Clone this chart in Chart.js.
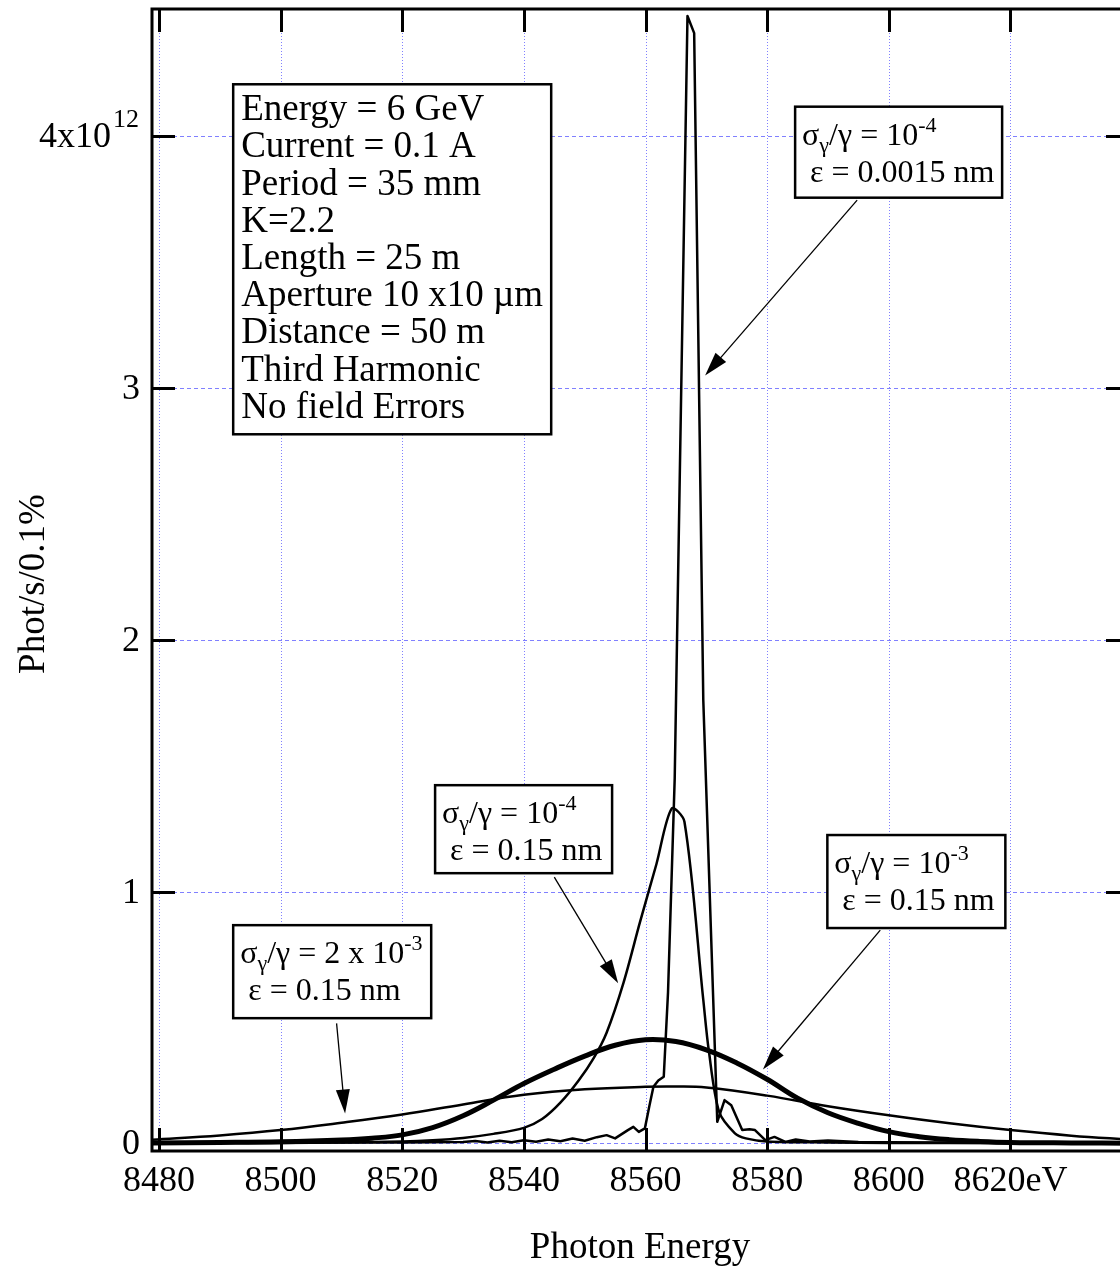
<!DOCTYPE html>
<html>
<head>
<meta charset="utf-8">
<script src="https://cdn.jsdelivr.net/npm/chart.js@4.4.1/dist/chart.umd.min.js"></script>
<style>
  html, body { margin: 0; padding: 0; background: #fff; overflow: hidden; }
  #wrap { width: 1140px; height: 1272px; }
</style>
</head>
<body>
<div id="wrap"><canvas id="spectrumChart" width="1140" height="1272"></canvas></div>
<script>
// Undulator third harmonic spectra, flux in units of 1e12 phot/s/0.1%

const xTicks = [8480, 8500, 8520, 8540, 8560, 8580, 8600, 8620];
const xTickLabels = ["8480", "8500", "8520", "8540", "8560", "8580", "8600", "8620eV"];
const yTicks = [0, 1, 2, 3, 4];
const yTickLabels = ["0", "1", "2", "3", "4x10"];

// sigma/gamma = 1e-3, eps = 0.15 nm (thick curve)
const energyThick = [8478.8, 8490, 8500, 8510, 8515, 8520, 8525, 8530, 8535, 8540, 8545, 8550, 8555, 8560, 8565, 8570, 8575, 8580, 8585, 8590, 8595, 8600, 8605, 8610, 8615, 8620, 8630, 8640];
const fluxThick = [0.002, 0.004, 0.007, 0.014, 0.021, 0.034, 0.063, 0.11, 0.172, 0.238, 0.295, 0.347, 0.39, 0.412, 0.405, 0.372, 0.32, 0.255, 0.18, 0.122, 0.08, 0.047, 0.027, 0.015, 0.008, 0.004, 0.002, 0.001];

// sigma/gamma = 2e-3, eps = 0.15 nm (broad curve)
const energyBroad = [8478.8, 8490, 8500, 8510, 8520, 8530, 8540, 8550, 8560, 8565, 8570, 8580, 8590, 8600, 8610, 8620, 8630, 8640];
const fluxBroad = [0.015, 0.032, 0.053, 0.082, 0.115, 0.155, 0.193, 0.215, 0.225, 0.226, 0.222, 0.19, 0.148, 0.112, 0.08, 0.053, 0.031, 0.015];

// sigma/gamma = 1e-4, eps = 0.15 nm
const energyMid = [8478.8, 8500, 8510, 8520, 8525, 8530, 8535, 8540, 8543, 8546, 8549, 8551.5, 8553.6, 8556.4, 8559.1, 8561.8, 8564.3, 8566.4, 8569.5, 8570.4, 8572.1, 8574.7, 8576.5, 8580, 8590, 8600, 8620, 8640];
const fluxMid = [0.001, 0.002, 0.004, 0.008, 0.013, 0.022, 0.038, 0.062, 0.097, 0.162, 0.25, 0.34, 0.44, 0.64, 0.88, 1.11, 1.33, 1.278, 0.57, 0.37, 0.126, 0.04, 0.02, 0.008, 0.004, 0.002, 0.001, 0.001];

// sigma/gamma = 1e-4, eps = 0.0015 nm (sharp peak)
const energySharp = [8478.8, 8500, 8520, 8530, 8532, 8534, 8536, 8538, 8540, 8542, 8544, 8546, 8548, 8550, 8552, 8553.6, 8555, 8557.1, 8558, 8558.9, 8559.9, 8560.6, 8561.3, 8562.1, 8563, 8563.7, 8564.8, 8566.9, 8568, 8569.5, 8571.8, 8573, 8574.1, 8575.9, 8577.1, 8578, 8579.7, 8581.2, 8583, 8584.7, 8587, 8590, 8595, 8600, 8610, 8620, 8640];
const fluxSharp = [0.003, 0.004, 0.004, 0.006, 0.01, 0.004, 0.011, 0.005, 0.013, 0.007, 0.016, 0.009, 0.02, 0.011, 0.025, 0.033, 0.02, 0.053, 0.066, 0.046, 0.06, 0.145, 0.225, 0.25, 0.265, 0.6, 1.45, 4.478, 4.41, 1.76, 0.086, 0.172, 0.152, 0.053, 0.056, 0.053, 0.013, 0.026, 0.006, 0.016, 0.008, 0.012, 0.006, 0.005, 0.004, 0.003, 0.002];

const FONT = '"Liberation Serif", "Times New Roman", serif';
const GRID_COLOR = "#8080ff";

// text boxes, anchored in data space (top-left corner), sizes in px
const infoLines = ["Energy = 6 GeV", "Current = 0.1 A", "Period = 35 mm", "K=2.2", "Length = 25 m", "Aperture 10 x10 \u00b5m", "Distance = 50 m", "Third Harmonic", "No field Errors"];
const labelBoxes = [
  { x: 8584.6, y: 4.118, w: 207, h: 91, rest: "10", sup: "-4", eps: "\u03b5 = 0.0015 nm", from: [8594.8, 3.747], to: [8569.8, 3.05] },
  { x: 8525.4, y: 1.423, w: 177, h: 88, rest: "10", sup: "-4", eps: "\u03b5 = 0.15 nm", from: [8545.0, 1.058], to: [8555.5, 0.636] },
  { x: 8589.9, y: 1.225, w: 178, h: 93, rest: "10", sup: "-3", eps: "\u03b5 = 0.15 nm", from: [8598.6, 0.847], to: [8579.3, 0.294] },
  { x: 8492.2, y: 0.867, w: 198, h: 93, rest: "2 x 10", sup: "-3", eps: "\u03b5 = 0.15 nm", from: [8509.2, 0.477], to: [8510.6, 0.119] }
];

function toPoints(xs, ys) {
  return xs.map((x, i) => ({ x: x, y: ys[i] }));
}

function drawArrow(ctx, x1, y1, x2, y2) {
  const ang = Math.atan2(y2 - y1, x2 - x1);
  const len = 24, half = 7;
  ctx.save();
  ctx.strokeStyle = "#000";
  ctx.lineWidth = 1.3;
  ctx.beginPath();
  ctx.moveTo(x1, y1);
  ctx.lineTo(x2 - Math.cos(ang) * len * 0.8, y2 - Math.sin(ang) * len * 0.8);
  ctx.stroke();
  ctx.fillStyle = "#000";
  ctx.beginPath();
  ctx.moveTo(x2, y2);
  ctx.lineTo(x2 - Math.cos(ang) * len - Math.sin(ang) * half, y2 - Math.sin(ang) * len + Math.cos(ang) * half);
  ctx.lineTo(x2 - Math.cos(ang) * len + Math.sin(ang) * half, y2 - Math.sin(ang) * len - Math.cos(ang) * half);
  ctx.closePath();
  ctx.fill();
  ctx.restore();
}

// sigma_gamma/gamma = rest^sup
function drawSigma(ctx, x, y, size, rest, sup) {
  const small = Math.round(size * 0.7);
  ctx.font = size + "px " + FONT;
  ctx.fillText("\u03c3", x, y);
  x += ctx.measureText("\u03c3").width;
  ctx.font = small + "px " + FONT;
  ctx.fillText("\u03b3", x, y + size * 0.22);
  x += ctx.measureText("\u03b3").width;
  ctx.font = size + "px " + FONT;
  const main = "/\u03b3 = " + rest;
  ctx.fillText(main, x, y);
  x += ctx.measureText(main).width;
  ctx.font = small + "px " + FONT;
  ctx.fillText(sup, x, y - size * 0.4);
}

const framePlugin = {
  id: "frame",
  beforeDatasetsDraw(chart) {
    const { ctx, chartArea: a, scales: { x, y } } = chart;
    ctx.save();
    ctx.strokeStyle = GRID_COLOR;
    ctx.lineWidth = 1;
    ctx.setLineDash([1, 2]);
    xTicks.forEach(v => {
      const px = Math.round(x.getPixelForValue(v)) + 0.5;
      ctx.beginPath();
      ctx.moveTo(px, a.top);
      ctx.lineTo(px, a.bottom);
      ctx.stroke();
    });
    ctx.setLineDash([4, 3]);
    yTicks.forEach(v => {
      const py = Math.round(y.getPixelForValue(v)) + 0.5;
      ctx.beginPath();
      ctx.moveTo(a.left, py);
      ctx.lineTo(a.right, py);
      ctx.stroke();
    });
    ctx.restore();

    // white boxes hide the grid behind them
    ctx.save();
    ctx.fillStyle = "#fff";
    ctx.fillRect(x.getPixelForValue(8492.2), y.getPixelForValue(4.207), 318, 350);
    labelBoxes.forEach(b => {
      ctx.fillRect(x.getPixelForValue(b.x), y.getPixelForValue(b.y), b.w, b.h);
    });
    ctx.restore();
  },
  afterDatasetsDraw(chart) {
    const { ctx, chartArea: a, scales: { x, y } } = chart;
    ctx.save();
    ctx.strokeStyle = "#000";
    ctx.lineWidth = 3;
    ctx.strokeRect(a.left, a.top, a.right - a.left, a.bottom - a.top);

    // inward ticks
    const tick = 23;
    xTicks.forEach(v => {
      const px = Math.round(x.getPixelForValue(v)) + 0.5;
      ctx.beginPath();
      ctx.moveTo(px, a.top);
      ctx.lineTo(px, a.top + tick);
      ctx.moveTo(px, a.bottom);
      ctx.lineTo(px, a.bottom - tick);
      ctx.stroke();
    });
    yTicks.forEach(v => {
      const py = Math.round(y.getPixelForValue(v)) + 0.5;
      ctx.beginPath();
      ctx.moveTo(a.left, py);
      ctx.lineTo(a.left + tick, py);
      ctx.moveTo(a.right, py);
      ctx.lineTo(a.right - tick, py);
      ctx.stroke();
    });

    // tick labels
    ctx.fillStyle = "#000";
    ctx.font = "36px " + FONT;
    ctx.textAlign = "center";
    ctx.textBaseline = "alphabetic";
    xTicks.forEach((v, i) => {
      ctx.fillText(xTickLabels[i], x.getPixelForValue(v), 1191);
    });
    ctx.textAlign = "right";
    yTicks.forEach((v, i) => {
      const py = y.getPixelForValue(v);
      if (i === yTicks.length - 1) {
        ctx.font = "26px " + FONT;
        ctx.fillText("12", 139, py - 9);
        const w = ctx.measureText("12").width;
        ctx.font = "36px " + FONT;
        ctx.fillText(yTickLabels[i], 137 - w, py + 11);
      } else {
        ctx.font = "36px " + FONT;
        ctx.fillText(yTickLabels[i], 140, py + 11);
      }
    });

    // axis titles
    ctx.textAlign = "center";
    ctx.font = "37px " + FONT;
    ctx.fillText("Photon Energy", 640, 1258);
    ctx.save();
    ctx.translate(44, 584);
    ctx.rotate(-Math.PI / 2);
    ctx.fillText("Phot/s/0.1%", 0, 0);
    ctx.restore();

    // info box
    ctx.textAlign = "left";
    const ix = x.getPixelForValue(8492.2), iy = y.getPixelForValue(4.207);
    ctx.lineWidth = 2.5;
    ctx.strokeRect(ix, iy, 318, 350);
    ctx.font = "37px " + FONT;
    infoLines.forEach((t, i) => ctx.fillText(t, ix + 8, iy + 36 + i * 37.2));

    // curve labels with arrows
    labelBoxes.forEach(b => {
      const bx = x.getPixelForValue(b.x), by = y.getPixelForValue(b.y);
      ctx.lineWidth = 2.5;
      ctx.strokeRect(bx, by, b.w, b.h);
      drawSigma(ctx, bx + 7, by + 38, 32, b.rest, b.sup);
      ctx.font = "32px " + FONT;
      ctx.fillText(b.eps, bx + 15, by + 75);
      drawArrow(ctx, x.getPixelForValue(b.from[0]), y.getPixelForValue(b.from[1]),
        x.getPixelForValue(b.to[0]), y.getPixelForValue(b.to[1]));
    });
    ctx.restore();
  }
};

const lineStyle = {
  borderColor: "#000",
  fill: false,
  pointRadius: 0,
  borderJoinStyle: "round"
};

new Chart(document.getElementById("spectrumChart").getContext("2d"), {
  type: "line",
  data: {
    datasets: [
      Object.assign({ data: toPoints(energyBroad, fluxBroad), borderWidth: 2.5, tension: 0.4 }, lineStyle),
      Object.assign({ data: toPoints(energyMid, fluxMid), borderWidth: 2.5, tension: 0.3 }, lineStyle),
      Object.assign({ data: toPoints(energySharp, fluxSharp), borderWidth: 2.5, tension: 0 }, lineStyle),
      Object.assign({ data: toPoints(energyThick, fluxThick), borderWidth: 5, tension: 0.4 }, lineStyle)
    ]
  },
  options: {
    responsive: false,
    animation: false,
    devicePixelRatio: 1,
    layout: { padding: { left: 152, top: 9, right: 11, bottom: 121 } },
    plugins: { legend: { display: false }, tooltip: { enabled: false } },
    scales: {
      x: { type: "linear", min: 8478.85, max: 8639.5, display: false },
      y: { type: "linear", min: -0.03, max: 4.506, display: false }
    }
  },
  plugins: [framePlugin]
});
</script>
</body>
</html>
